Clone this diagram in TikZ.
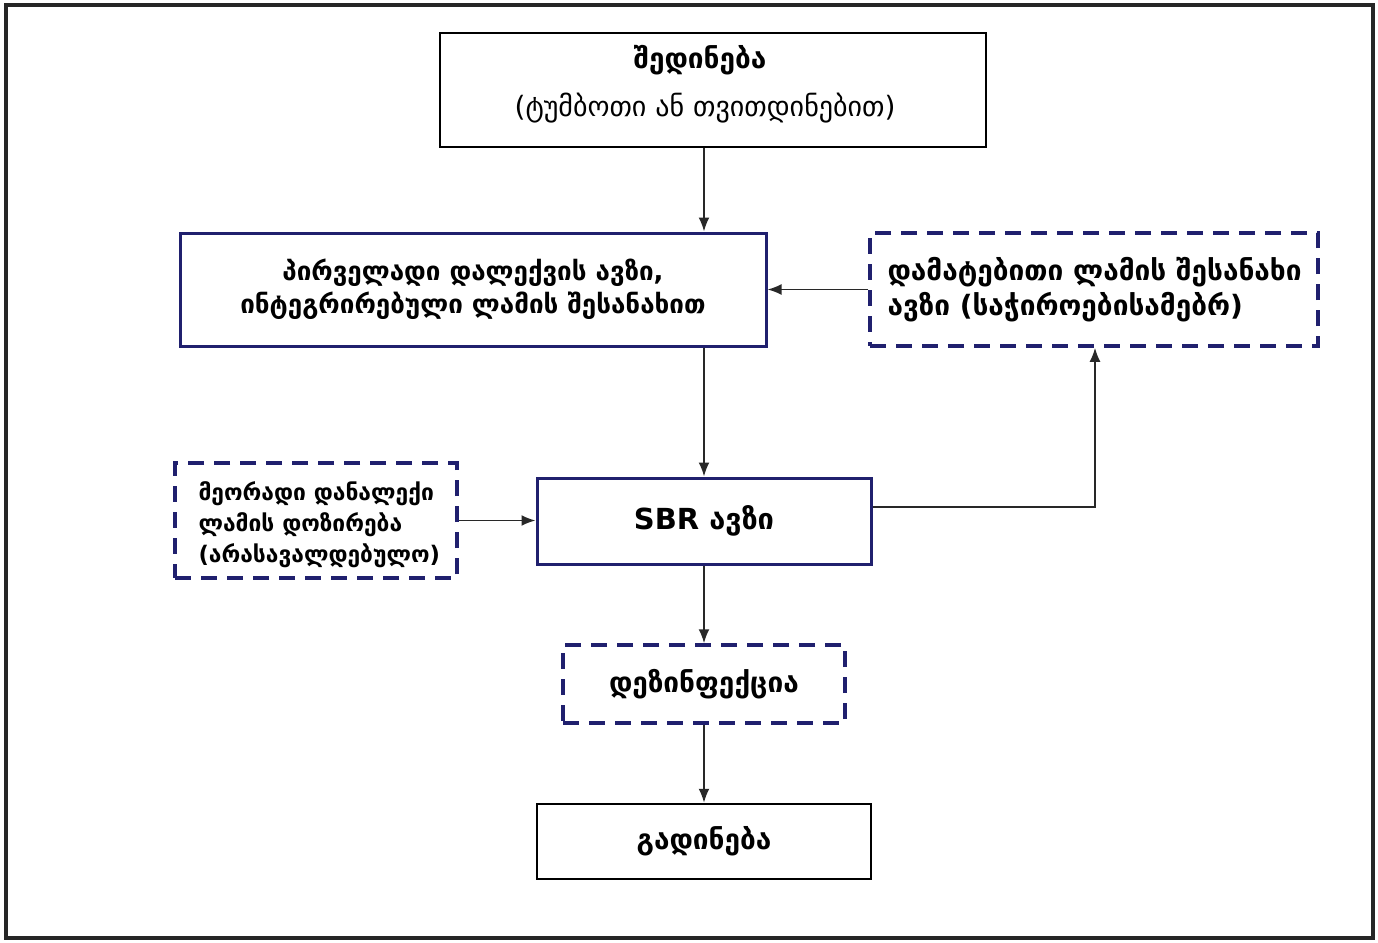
\documentclass[tikz,border=0pt]{standalone}
\usepackage{fontspec}
\setmainfont{DejaVu Sans}
\usetikzlibrary{arrows.meta}
\definecolor{navy}{RGB}{32,32,110}
\definecolor{conn}{RGB}{40,40,40}
\tikzset{
  box/.style={draw=black, line width=2.5pt, fill=white, inner sep=0pt, align=center},
  navybox/.style={draw=navy, line width=3pt, fill=white, inner sep=0pt, align=center},
  dashbox/.style={draw=navy, line width=3.5pt, dash pattern=on 16pt off 10pt, fill=white, inner sep=0pt, align=left},
  arr/.style={draw=conn, line width=1.8pt, -{Latex[length=14pt,width=11pt]}},
  lbl/.style={font=\fontsize{28}{34}\selectfont\bfseries},
}
\begin{document}
\begin{tikzpicture}[x=1pt,y=-1pt]
\useasboundingbox (0,0) rectangle (1378,942);
\draw[line width=3.5pt, draw=black!85] (6,5) rectangle (1373,938);

\node[box, line width=2pt, minimum width=546pt, minimum height=114pt] (top) at (713,90) {};
\node[font=\fontsize{28}{30}\selectfont\bfseries] (toptitle) at (700,60) {შედინება};
\node[font=\fontsize{28}{30}\selectfont] (topsub) at (705,108) {(ტუმბოთი ან თვითდინებით)};

\node[navybox, minimum width=586pt, minimum height=113pt, font=\fontsize{26}{33}\selectfont\bfseries] (prim) at (473,289.5) {პირველადი დალექვის ავზი,\\ინტეგრირებული ლამის შესანახით};

\node[dashbox, minimum width=448pt, minimum height=113pt] (add) at (1094,289.5) {};
\node[font=\fontsize{28}{35}\selectfont\bfseries, align=left, anchor=west] (addtxt) at (884,289.5) {დამატებითი ლამის შესანახი\\ავზი (საჭიროებისამებრ)};

\node[dashbox, minimum width=282pt, minimum height=115pt] (sec) at (316,520.5) {};
\node[font=\fontsize{22.8}{31}\selectfont\bfseries, align=left, anchor=west] (sectxt) at (195,525) {მეორადი დანალექი\\ლამის დოზირება\\(არასავალდებულო)};

\node[navybox, minimum width=334pt, minimum height=86pt, font=\fontsize{29}{34}\selectfont\bfseries] (sbr) at (704,521) {SBR ავზი};

\node[dashbox, minimum width=282pt, minimum height=78pt, align=center, lbl] (dis) at (704,684) {დეზინფექცია};

\node[box, minimum width=334pt, minimum height=75pt, lbl] (out) at (704,841.5) {გადინება};

\coordinate (sbrright) at (sbr.east |- 0,507);
\coordinate (bend) at (1095,507);

\draw[arr] (top.south -| sbr.north) -- (prim.north -| sbr.north);
\draw[arr] (prim.south -| sbr.north) -- (sbr.north);
\draw[arr] (add.west) -- (add.west -| prim.east);
\draw[arr] (sbrright) -- (bend) -- (bend |- add.south);
\draw[arr] (sec.east) -- (sec.east -| sbr.west);
\draw[arr] (sbr.south) -- (dis.north);
\draw[arr] (dis.south) -- (out.north);
\end{tikzpicture}
\end{document}
